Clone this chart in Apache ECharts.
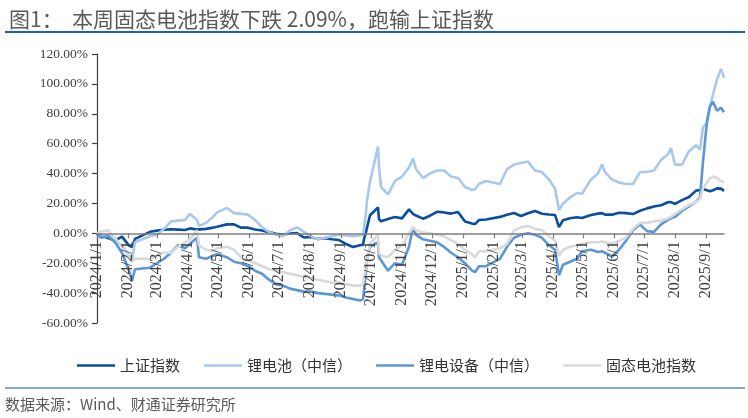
<!DOCTYPE html>
<html>
<head>
<meta charset="utf-8">
<script src="https://cdn.jsdelivr.net/npm/echarts@6/dist/echarts.min.js"></script>
<style>html,body{margin:0;padding:0;background:#fff;}#c{width:748px;height:418px;}</style>
</head>
<body>
<div id="c"></div>
<script>
const seriesNames = ['上证指数', '锂电池（中信）', '锂电设备（中信）', '固态电池指数'];

const dates = [
  '2024-01-01','2024-01-02','2024-01-05','2024-01-12','2024-01-19','2024-01-26',
  '2024-02-02','2024-02-05','2024-02-08','2024-02-23',
  '2024-03-01','2024-03-08','2024-03-15','2024-03-22','2024-03-29',
  '2024-04-03','2024-04-10','2024-04-12','2024-04-19','2024-04-26','2024-04-30',
  '2024-05-10','2024-05-17','2024-05-24','2024-05-31',
  '2024-06-07','2024-06-14','2024-06-21','2024-06-28',
  '2024-07-05','2024-07-12','2024-07-19','2024-07-26',
  '2024-08-02','2024-08-09','2024-08-16','2024-08-23','2024-08-30',
  '2024-09-06','2024-09-13','2024-09-20','2024-09-23','2024-09-24','2024-09-26','2024-09-27','2024-09-30',
  '2024-10-08','2024-10-09','2024-10-11','2024-10-18','2024-10-25',
  '2024-11-01','2024-11-08','2024-11-12','2024-11-15','2024-11-22','2024-11-29',
  '2024-12-06','2024-12-13','2024-12-20','2024-12-27',
  '2025-01-03','2025-01-10','2025-01-13','2025-01-17','2025-01-24',
  '2025-02-07','2025-02-14','2025-02-21','2025-02-28',
  '2025-03-07','2025-03-14','2025-03-21','2025-03-28',
  '2025-04-03','2025-04-07','2025-04-11','2025-04-18','2025-04-25','2025-04-30',
  '2025-05-09','2025-05-16','2025-05-20','2025-05-23','2025-05-30',
  '2025-06-06','2025-06-13','2025-06-20','2025-06-27',
  '2025-07-04','2025-07-11','2025-07-18','2025-07-25','2025-07-28',
  '2025-08-01','2025-08-08','2025-08-15','2025-08-22','2025-08-26','2025-08-29',
  '2025-09-02','2025-09-05','2025-09-08','2025-09-12','2025-09-16','2025-09-19'
];

// 上证指数 (%)
const sse = [
  0, -0.4, -1.5, -3.1, -4.8, -2.2,
  -8.2, -9.2, -3.7, 1.0,
  1.8, 2.4, 2.7, 2.5, 2.2,
  3.3, 2.5, 1.5, 3.0, 3.8, 4.4,
  6.0, 6.0, 3.8, 3.8,
  2.6, 1.9, 0.8, -0.3,
  -0.8, -0.1, 0.2, -2.8,
  -2.4, -3.8, -3.2, -4.0, -4.5,
  -7.1, -9.1, -8.0, -7.6, -3.8, 0.8, 3.8, 12.1,
  17.3, 9.5, 8.1, 9.6, 10.9,
  10.0, 16.0, 13.0, 11.9, 9.8, 11.8,
  14.4, 14.0, 13.2, 14.3,
  7.9, 6.5, 6.2, 8.9, 9.3,
  11.0, 12.5, 13.6, 11.6,
  13.4, 14.9, 13.1, 12.6,
  12.3, 4.1, 8.8, 10.1, 10.8, 10.2,
  12.3, 13.2, 13.5, 12.5, 12.5,
  13.8, 13.5, 12.9, 15.1,
  16.7, 18.0, 18.8, 20.8, 20.9,
  19.7, 22.2, 24.3, 28.6, 29.0, 29.7,
  28.8, 28.2, 28.8, 30.1, 29.9, 28.4
];

// 锂电池（中信） (%)
const liBattery = [
  0, -1, -2.5, -1, -5, -8,
  -15, -18, -6, -2,
  -1, 3, 8, 8.5, 9,
  13, 9, 5, 7, 11, 14,
  17, 13.5, 13, 12.5,
  9, 4, 1, -1,
  -2, 2, 4, 1,
  -2, -4, -3, -2, -1,
  -1.5, -2, -1.5, -1, 4, 14, 22, 34.7,
  58, 45, 31, 26, 35,
  38, 44, 50, 43, 37, 40,
  42, 42, 38, 37,
  31, 29, 29.5, 33, 35,
  33, 43, 46, 47,
  48, 42, 41, 36,
  30, 15.5, 20, 24, 27, 26.5,
  36, 40, 46, 41, 36,
  34, 33, 33, 41,
  41, 42, 49, 53, 57,
  46, 46, 55, 59, 56, 71,
  74, 85, 93, 103, 110, 104
];

// 锂电设备（中信） (%)
const liEquip = [
  0, -1.5, -3, -2, -6, -13,
  -25, -32, -24, -23,
  -20, -17, -13, -8, -10,
  -7, -3, -16, -17, -15, -14,
  -16, -19, -20, -22,
  -25, -27, -31, -34,
  -35, -37, -38, -39,
  -39, -40, -40.5, -41, -41.5,
  -43, -44, -45, -44, -38, -25, -17, -9,
  -6, -16, -18, -25, -20,
  -21, -9, 4, -1, -4, -5,
  -6, -9, -13, -16,
  -20, -25, -26, -22, -22,
  -17, -9, -3, -1,
  0, -1, -3, -8,
  -11, -28, -21, -19, -17, -12,
  -11, -12.5, -12, -13, -15.5,
  -11, -5, 2, 6,
  1.5, 1, 6, 9, 10,
  11, 15, 18, 21, 24, 48,
  75, 85, 88, 82, 84, 81
];

// 固态电池指数 (%)
const solidState = [
  0, 0.5, 1, 2, -3, -9,
  -16, -19, -17, -17,
  -15, -13, -13, -9, -6,
  -4, 2, -8, -11, -12, -10,
  -9, -11, -16, -18,
  -20, -22, -24, -25,
  -26, -27, -28, -29,
  -30, -31, -32, -33, -33,
  -34, -35, -35, -34, -30, -22, -18, -7,
  -1, -13, -15, -16, -11,
  -8, 0, 4, 2, 0.5, 0,
  -1, -2, -4.5, -7,
  -11, -14, -16, -12, -12,
  -10, -7, 2, 4,
  5, 3, 2, -2,
  -5, -15, -11, -9, -8, -7,
  -6, -6, -5.5, -6, -7,
  -5, -3, 3, 7,
  7, 8, 8.5, 10, 11,
  13, 16, 19, 21, 23, 30,
  34, 37, 38, 37, 35, 34
];

// x-axis tick labels (month starts)
const monthTicks = [
  '2024/1/1','2024/2/1','2024/3/1','2024/4/1','2024/5/1','2024/6/1','2024/7/1',
  '2024/8/1','2024/9/1','2024/10/1','2024/11/1','2024/12/1',
  '2025/1/1','2025/2/1','2025/3/1','2025/4/1','2025/5/1','2025/6/1','2025/7/1',
  '2025/8/1','2025/9/1'
];

const colors = ['#0a4f9f', '#a9c8ee', '#5b97d6', '#d8d9db'];

function toTs(s) {
  const p = s.split(/[-\/]/).map(Number);
  return Date.UTC(p[0], p[1] - 1, p[2]);
}
const tickValues = monthTicks.map(toTs);
const allValues = [sse, liBattery, liEquip, solidState];

const gridTop = 54, gridBottom = 95, chartH = 418;
const yMin = -60, yMax = 120;
const plotH = chartH - gridTop - gridBottom;
const zeroOffset = -(plotH * (0 - yMin) / (yMax - yMin));

const chart = echarts.init(document.getElementById('c'), null, { renderer: 'canvas' });
const option = {
  animation: false,
  color: colors,
  title: {
    text: '图1：  本周固态电池指数下跌 2.09%，跑输上证指数',
    left: 4, top: 4,
    textStyle: { fontFamily: 'Noto Sans CJK SC', fontSize: 21, fontWeight: 'normal', color: '#595959' }
  },
  legend: {
    left: 72, top: 353,
    itemWidth: 38, itemHeight: 14, itemGap: 24,
    icon: 'path://M0,6 L38,6 L38,8.5 L0,8.5 Z',
    textStyle: { fontFamily: 'Noto Sans CJK SC', fontSize: 15, color: '#333' },
    data: seriesNames
  },
  grid: { left: 97, right: 24, top: gridTop, bottom: gridBottom, containLabel: false },
  xAxis: {
    type: 'value',
    position: 'bottom',
    offset: zeroOffset,
    min: toTs('2024-01-01'),
    max: toTs('2025-09-19'),
    z: 10,
    axisLine: { onZero: false, lineStyle: { color: '#7f7f7f', width: 1.5 } },
    axisTick: { show: true, length: 5, inside: false, customValues: tickValues, lineStyle: { color: '#7f7f7f', width: 1.2 } },
    axisLabel: {
      customValues: tickValues,
      rotate: 90, margin: 8,
      fontFamily: 'Liberation Serif', fontSize: 16, color: '#404040',
      formatter: function (v) {
        const d = new Date(v);
        return d.getUTCFullYear() + '/' + (d.getUTCMonth() + 1) + '/' + d.getUTCDate();
      }
    },
    splitLine: { show: false }
  },
  yAxis: {
    type: 'value',
    min: yMin, max: yMax, interval: 20,
    axisLine: { show: true, lineStyle: { color: '#404040', width: 1.2 } },
    axisTick: { show: true, length: 5, lineStyle: { color: '#404040', width: 1.2 } },
    axisLabel: {
      margin: 9, fontFamily: 'Liberation Serif', fontSize: 13.5, color: '#404040',
      formatter: function (v) { return v.toFixed(2) + '%'; }
    },
    splitLine: { show: false }
  },
  series: seriesNames.map(function (name, k) {
    return {
      name: name, type: 'line', showSymbol: false, symbol: 'none',
      lineStyle: { width: 2.6, color: colors[k] },
      itemStyle: { color: colors[k] },
      data: dates.map(function (d, i) { return [toTs(d), allValues[k][i]]; })
    };
  }),
  graphic: [
    { type: 'line', shape: { x1: 5, y1: 32, x2: 745, y2: 32 }, style: { stroke: '#1f5faf', lineWidth: 2 } },
    { type: 'line', shape: { x1: 5, y1: 388, x2: 745, y2: 388 }, style: { stroke: '#7da6d9', lineWidth: 2 } },
    { type: 'text', left: 5, top: 397, style: { text: '数据来源：Wind、财通证券研究所', font: '15px "Noto Sans CJK SC"', fill: '#595959' } }
  ]
};
chart.setOption(option);
</script>
</body>
</html>
